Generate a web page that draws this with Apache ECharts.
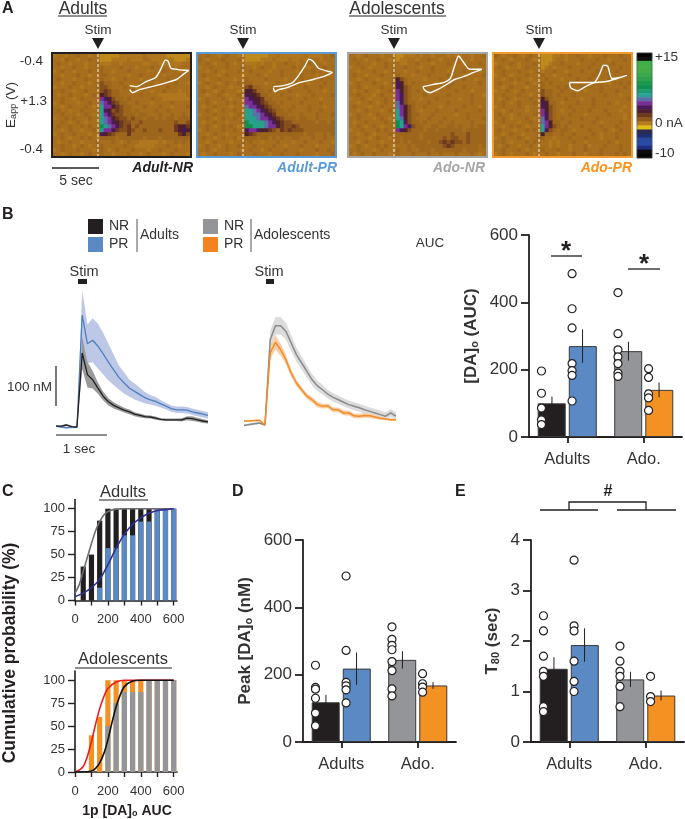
<!DOCTYPE html>
<html>
<head>
    <meta charset="utf-8" />
    <title>Dopamine release in adults and adolescents</title>
    <script src="https://cdn.jsdelivr.net/npm/echarts@6/dist/echarts.min.js"></script>
    <style>
        html, body { margin: 0; padding: 0; background: #fff; }
    </style>
</head>
<body>
<div id="main" style="width:685px;height:819px;"></div>
<script type="text/javascript">
    // colour plots (panel A), one character per cell, see heatLevels
    var heatLevels = { '.': -1.6, ',': -1.35, ':': -1.85, '-': -0.7, '_': 0.1, '~': 1, 'q': 2, 'p': 3, 'b': 4, 't': 5.2, 'g': 7, 'y': -2.2 };
    var heatAdultNR = [
        ":..:..,..:..yyyyy::::::.:::::yyyyyy", "..:,..:..,..yyy::::.:::..::::::yyy:", ".,..:...:..,:::..:.....::..::::::..",
        "..:..,..:...,....,...:...,.....:...", ":.,..:...,..,..:...,....:...,...:..", "..:...,..:..,,.....:..,.....:...,..",
        ".,...:..,...,..:..,...:..,...,.....", "..:..,...:..-,,..,....,...:....,..:", ":...,..:...,--,...,..:...,...,.....",
        "..,..:..,...-_-,,...,....:..,...:..", ".:..,...:.,.~_-,,.....,....:::::::.", "..,..:.,....pq~-,,.,.....,..:::::::",
        ":.,...:..,..bpq_-,,..,...:....,....", "..:.,...,.:.tpp~_-,,...,...,..:...,", ".,..:..,....tq~-_-,,.,....,..,.....",
        "..,...:.,.:.tpq_--,,,.,,...,..,..,.", ":..,.,...,..tbp~_--,-,,.,,.,.,,.,,,", "..,.:.,.:...tbpq~_--,,-,,,,,,,,-,,-",
        ".,..,..,.,..gtbpq_-_,-,,,,,,,,,_~~_", "..:.,..:..,.tppq_--_-,,-,,,-,,,_~q~", ":.,..,...:..q~_-,,,_,,,,,,,,,,,,_~-",
        "..,.:..,.,.:,,,,.,,,,,,.,,,.,,,,,,,", ".:..,..:...,...,.:.,..:::::.:..,.,.", "..,..:.,.:..,.....,..:::::...,..:..",
        ":.,...,...:.,.:.,...,...:..,...,...", "..:.,..:.,..,..:...,..:.,...:.,...:"
    ];
    var heatAdultPR = [
        "..,..:.,..:.yyyyyy::.::::::.::::..,", ",.:...,...,.yyyy:::.:::.::.:...:...", "..,.:..,.:..:::.:..:..,..:..,...:..",
        ":..,...,...,..:.,..:....,...:...,..", "..:.,.:...,..,....:..,...:...,...:.", ".,...:.,...:...,.:...,....,...:....",
        "..:..,...:..,....,....:...,....,...", ":.,..:.,..,.,,...:..,...,...:...,..", "..:.,...:...-_,,...,...:...,...,...",
        ".,..:.,...:.~~_,,.,....,....,...:..", "..:..,.:..,.q~~_,,...,...:...,....,", ":.,...,.:...pq~~_,,....,...,...:...",
        "..,.:..,.,..ppq~_-,,.,....,....,...", ".:..,...:...bppq~_-,,...,...,...:..", "..,.:.,..,..ttbpq~_-,,.,....,..,...",
        ":...,...:.,.ttbbpq~_,,,...,...,...,", "..,.:.,..,..tttbppq~_-,,,.,,..,....", ".:..,..:...,gttttbpq~_--,,,,,,.,,.,",
        "..,.:.,.,.:.ggtttbpp~_--_-,,,,,,,,,", ":.,...,..,..qppq~~_-,_-_---,,,,,,,,", "..:.,..:....~_-,,,,,,,,,,,,.,,..,.,",
        ".,..:.,..,:.,,,.,,.,.,..,,...,..,..", "..:.,...:..,.,..:...,...:..,...,..:", ":.,..:.,..,...,....,..:...,...:....",
        "..,.:..,...:.,..:.,...,...:...,..,.", ".:..,...:.,...,...:..,...,....:...,"
    ];
    var heatAdoNR = [
        "..:.,...:...yy:::.:..:...:.::..:..,", ".,..:..,..:.y::..:..,..:...,...:...", "..,...:..,...::..,...:...,...:...,.",
        ":..,.:...,....,...:..,....:...,....", "..:...,..:.,..:..,...,...:...,...:.", ".,..:...,...,...:...,....,...:....,",
        "..:.,..:...,~-,....:...,.....,..:..", ":.,...,..:.,q~,.,.....:...,......,.", "..,.:...,...q~-,...,.....,...,.....",
        ".:..,..:..,.p~-,.,....:....,...:...", "..,...:.,...pq-,...,.....,.....,..:", ":..,.:...,..pq-,..:...,.....:..,...",
        "..:..,.:.,..bq-,,...,....,.....,...", ".,...:..,...bp~-,..,...:.....,...:.", "..:.,...:.,.tp~-,.:...,....,.....,.",
        ":.,..:.,....tp~-,,...,.....:..,....", "..,...:.,.:.tb~-,...,...,.....,...,", ".:..,....,..gtq-,,.,...,..,....,...",
        "..,.:.,.:...gtpq-,,..,,..,,.,..,.,,", ":..,...,.,..pq~-,,,.,,.,,,,,,.,,,,,", "..:.,.:...,.,,,,,,.,,,,,,,-,,,-,,,,",
        ".,...:.,..:.,.,,,,.,,,,,-,--,,-,,,,", "..:.,...:...,.,.,,,,.,,-_-_--,-,,,,", ":.,.:..,.,.:...,.,,,,,,,-_-,,,,,,.,",
        "..,...:.,..:,..,..,,,.,,,,,,,.,,,..", ".:.,..,...:.,...,...,..,...,...,.:."
    ];
    var heatAdoPR = [
        ",.:..,.:.,..yyy::.:..,..:...,...,..", "..,.:...,.:.yyy:..:...,...,..:...,.", ":...,.:...,.yy:..,...:...,....,....",
        ".,.:..:.,...y:.:...,....,...,...,..", "..,...,..:.,:..,..:...,...,....,...", ":.,.:...,...,..:...,.....,...,...,.",
        "..:.,.,..:...,...:...,..,....,.....", ".,...:..,.:.,.,....,.....,...:..,.,", "..:.,...:...,...,.,...,....,.....,.",
        ":..,.:.,....-,,..,.....:...,...,...", "..,...,..:..-,,.,...,.......,...:..", ".:.,.:...,..~-,...,...:..,........,",
        "..,.:.,...,.q~,,.:...,...,...,.:...", ":.,...,.:...q~-,...,.....,.......:.", "..:.,...:...p~-,.:..,...,...,...:..",
        ".,..:.,...,.pq-,...,...:.....,...:.", "..,.:...,.:.bq-,.,....,...,......:.", ":.,...:..,..bp~,,..,.....,.:....,..",
        "..:.,.,.:...tp~-,.,...,....,...,...", ".,...:..,.,.tq-,.,,.:...,...,.:.,..", "..:.,..:...,~,,..,..,....,.:...,...",
        ":.,...,.:..,,..:...,...,...:...,...", "..,.:...,.,...:.:...,..:.....,.:...", ".:.,..:..,.:..:.:..:...,:...,...,..",
        "..,...,.:...,...,..:...,...,....,..", ":.,.:...,.:..,..:...,..:...,...,.,."
    ];
    var colorbarValues = [15, 14, 13, 12, 11, 10, 9, 8, 7, 6, 5, 4, 3, 2, 1, 0, -1, -2, -3, -4, -5, -6, -7, -8, -9, -10];
    var colorbarColors = ['#050505', '#0c0c0c', '#1c2f80', '#2a4aa8', '#2a4aa0', '#20306e', '#2a2a55', '#e0c014', '#b67c1e', '#8f5a1c',
        '#6e3a1c', '#4b1f2e', '#4a1a5a', '#7b2f96', '#5a6fa8', '#2aa295', '#1a9b70', '#0f8f50', '#1c9a4c', '#2fa04b', '#3aa84c',
        '#44ad4a', '#45b048', '#3fae49', '#111111', '#050505'];

    // cyclic voltammograms drawn on top of the colour plots (percent of panel)
    var cvAdultNR = [[56,31],[61,32],[68,27],[75,23],[79,14],[82,6],[84,7],[86,14],[90,15],[96,16],[99,16],[95,20],[90,25],[83,28],[75,31],[69,33],[63,35],[58,38],[56,35]];
    var cvAdultPR = [[55,32],[62,31],[69,28],[74,20],[78,12],[81,5],[84,7],[88,14],[95,17],[98,18],[92,22],[84,25],[74,28],[65,33],[59,35],[56,37],[55,33]];
    var cvAdoNR = [[54,32],[61,30],[69,28],[74,24],[77,12],[80,2],[83,7],[88,15],[93,15],[97,15],[91,18],[84,22],[77,25],[71,30],[66,34],[59,38],[55,35],[54,32]];
    var cvAdoPR = [[55,28],[65,28],[73,28],[77,20],[80,11],[83,12],[86,24],[92,23],[97,21],[90,24],[82,27],[74,28],[68,31],[61,36],[56,33],[55,28]];

    // panel B traces, nM per sample
    var traceSamples = [];
    for (var s = 0; s < 30; s++) traceSamples.push(s);
    var adultNRMean = [2,2,5,1,0,185,131,118,97,77,63,54,48,42,38,32,29,26,25,22,19,18,18,18,18,22,21,18,15,13];
    var adultNRSem = [2,2,3,2,1,40,32,22,14,11,9,8,7,6,6,5,5,4,4,4,3,3,3,3,4,5,6,5,5,4];
    var adultPRMean = [2,0,-2,-1,-1,280,208,217,202,183,162,143,124,110,97,89,81,73,68,64,58,52,46,43,43,42,38,35,32,29];
    var adultPRSem = [2,2,2,2,2,62,48,55,56,52,46,38,30,27,21,20,17,14,12,11,9,8,8,8,8,8,8,8,8,8];
    var adoNRMean = [4,6,8,10,5,218,253,253,239,210,181,160,139,118,103,93,82,74,68,62,56,52,48,43,39,35,31,27,35,27];
    var adoNRSem = [3,3,3,3,3,22,22,22,21,20,18,16,15,14,13,12,11,11,10,10,10,10,10,10,10,10,10,10,10,10];
    var adoPRMean = [15,15,16,17,5,185,212,193,168,135,110,93,77,68,56,52,53,43,43,35,35,28,27,29,28,25,22,20,18,18];
    var adoPRSem = [2,2,2,2,2,16,18,15,12,10,8,7,7,7,7,6,6,6,6,6,6,6,6,6,6,5,4,3,3,3];

    // bar panels: order is adult NR, adult PR, ado NR, ado PR
    var groupNames = ['Adults', 'Ado.'];
    var aucMeans = [100, 270, 255, 140];
    var aucSems = [20, 50, 28, 22];
    var aucDots = [[196,130,86,51,37], [485,381,324,218,197,183,107], [429,307,259,238,218,190,180], [203,177,128,116,79]];
    var peakMeans = [118, 218, 244, 168];
    var peakSems = [22, 48, 26, 10];
    var peakDots = [[228,162,157,130,86,48], [493,272,177,167,155,116], [342,305,287,274,239,212,158,137], [203,173,163,148]];
    var t80Means = [1.45, 1.92, 1.24, 0.92];
    var t80Sems = [0.23, 0.33, 0.15, 0.1];
    var t80Dots = [[2.5,2.2,1.7,1.4,1.3,0.7,0.6], [3.6,2.3,2.2,1.6,1.2,1.0], [1.9,1.6,1.4,1.3,1.1,0.7], [1.3,0.9,0.8]];

    // panel C, cumulative histograms and fits
    var histBins = [50,100,150,200,250,300,350,400,450,500,550,600];
    var histAdultNR = [37,50,87,100,100,100,100,100,100,100,100,100];
    var histAdultPR = [0,0,14,57,57,71,71,86,86,100,100,100];
    var histAdoPR = [0,40,60,100,100,100,100,100,100,100,100,100];
    var histAdoNR = [0,0,0,50,75,87,87,87,100,100,100,100];
    var fitAdultNR = [[0,8],[25,17],[50,32],[75,47],[100,62],[125,76],[150,86],[175,93],[200,97],[250,99.5],[300,100],[600,100]];
    var fitAdultPR = [[0,4],[50,8],[100,14],[150,23],[200,39],[250,57],[300,72],[350,83],[400,90],[450,95],[500,98],[550,99],[600,100]];
    var fitAdoPR = [[0,0],[25,2],[50,6],[75,17],[100,33],[125,52],[150,69],[175,82],[200,91],[250,98],[300,100],[600,100]];
    var fitAdoNR = [[0,0],[50,0],[100,1],[125,4],[150,10],[175,20],[200,35],[225,54],[250,71],[275,84],[300,93],[350,99],[400,100],[600,100]];

    var INK = '#231f20';
    var TXT = '#333333';
    var FONT = '"Liberation Sans", Arial, sans-serif';
    var BLACK = '#231f20', BLUE = '#5a89c3', GRAY = '#939598', ORANGE = '#f39222';
    var barColors = [BLACK, BLUE, GRAY, ORANGE];

    var grids = [], xAxes = [], yAxes = [], series = [], graphics = [], heatIdx = [];

    function hiddenAxis(o) {
        o.show = false;
        return o;
    }
    function addGrid(left, top, width, height) {
        grids.push({ left: left, top: top, width: width, height: height });
        return grids.length - 1;
    }

    // colour plot + voltammogram overlay + frame
    function addHeat(rows, cv, left, top, frameColor, stimX) {
        var g = addGrid(left + 2, top + 2, 137, 102);
        grids[g].show = true;
        grids[g].backgroundColor = '#a5701e';
        grids[g].borderWidth = 0;
        var cols = [], rowNames = [], data = [];
        for (var c = 0; c < rows[0].length; c++) cols.push(c);
        rows.forEach(function (row, r) {
            rowNames.push(r);
            row.split('').forEach(function (ch, c) {
                data.push([c, r, heatLevels[ch]]);
            });
        });
        xAxes.push(hiddenAxis({ type: 'category', gridIndex: g, data: cols }));
        yAxes.push(hiddenAxis({ type: 'category', gridIndex: g, data: rowNames, inverse: true }));
        heatIdx.push(series.length);
        series.push({ type: 'heatmap', xAxisIndex: xAxes.length - 1, yAxisIndex: yAxes.length - 1, data: data, progressive: 0 });
        xAxes.push(hiddenAxis({ type: 'value', gridIndex: g, min: 0, max: 100 }));
        yAxes.push(hiddenAxis({ type: 'value', gridIndex: g, min: 0, max: 100, inverse: true }));
        series.push({
            type: 'line', xAxisIndex: xAxes.length - 1, yAxisIndex: yAxes.length - 1, data: cv, showSymbol: false, smooth: 0.2,
            lineStyle: { color: '#fff', width: 1.4 }, z: 5
        });
        graphics.push({ type: 'rect', shape: { x: left + 1, y: top + 1, width: 139, height: 104 }, style: { fill: 'none', stroke: frameColor, lineWidth: 2 }, z: 50 });
        graphics.push({ type: 'line', shape: { x1: stimX, y1: top + 2, x2: stimX, y2: top + 104 }, style: { stroke: '#f4efe2', lineWidth: 1, lineDash: [3, 2] }, z: 40 });
        graphics.push({ type: 'polygon', shape: { points: [[stimX - 6, 38], [stimX + 6, 38], [stimX, 49]] }, style: { fill: INK }, z: 40 });
        addText('Stim', stimX, 30, 13.5);
    }

    function addText(str, x, y, size, o) {
        o = o || {};
        graphics.push({
            type: 'text', x: x, y: y, rotation: o.rotation || 0, z: 60,
            style: {
                text: str, fontFamily: FONT, fontSize: size, fontWeight: o.weight || 'normal', fontStyle: o.italic ? 'italic' : 'normal',
                fill: o.color || TXT, textAlign: o.align || 'center', textVerticalAlign: 'middle', rich: o.rich
            }
        });
    }
    function addLine(x1, y1, x2, y2, w, color) {
        graphics.push({ type: 'line', shape: { x1: x1, y1: y1, x2: x2, y2: y2 }, style: { stroke: color || INK, lineWidth: w || 1.5 }, z: 40 });
    }
    function addSwatch(x, y, color) {
        graphics.push({ type: 'rect', shape: { x: x, y: y, width: 15, height: 15 }, style: { fill: color }, z: 40 });
    }

    // mean trace with a shaded sem band, stacked so the band follows the mean
    function addTrace(xIdx, yIdx, mean, sem, lineColor, bandColor, key, width) {
        var lower = mean.map(function (m, i) { return m - sem[i]; });
        var band = sem.map(function (e) { return 2 * e; });
        series.push({
            type: 'line', xAxisIndex: xIdx, yAxisIndex: yIdx, data: lower, stack: key, stackStrategy: 'all', showSymbol: false,
            lineStyle: { opacity: 0 }, areaStyle: { opacity: 0 }
        });
        series.push({
            type: 'line', xAxisIndex: xIdx, yAxisIndex: yIdx, data: band, stack: key, stackStrategy: 'all', showSymbol: false,
            lineStyle: { opacity: 0 }, areaStyle: { color: bandColor, opacity: 1 }
        });
        series.push({
            type: 'line', xAxisIndex: xIdx, yAxisIndex: yIdx, data: mean, showSymbol: false, z: 5,
            lineStyle: { color: lineColor, width: width || 1.3 }
        });
    }
    function addTraceGrid(left) {
        var g = addGrid(left, 283, 152, 152);
        xAxes.push(hiddenAxis({ type: 'category', gridIndex: g, data: traceSamples, boundaryGap: false }));
        yAxes.push(hiddenAxis({ type: 'value', gridIndex: g, min: -20, max: 360 }));
        return [xAxes.length - 1, yAxes.length - 1];
    }

    function addBarPanel(left, top, height, yMax, yStep, yName, nameGap, means, sems, dots) {
        var g = addGrid(left, top, 153, height);
        xAxes.push({
            type: 'category', gridIndex: g, data: groupNames,
            axisLine: { show: true, onZero: false, lineStyle: { color: INK, width: 1.8 } },
            axisTick: { show: true, alignWithLabel: true, length: 6, lineStyle: { color: INK, width: 1.8 } },
            axisLabel: { color: TXT, fontFamily: FONT, fontSize: 16.5, margin: 14, interval: 0 }
        });
        var catX = xAxes.length - 1;
        xAxes.push(hiddenAxis({ type: 'value', gridIndex: g, min: -0.5, max: 1.5 }));
        var valX = xAxes.length - 1;
        yAxes.push({
            type: 'value', gridIndex: g, min: 0, max: yMax, interval: yStep, splitLine: { show: false },
            axisLine: { show: true, onZero: false, lineStyle: { color: INK, width: 1.8 } },
            axisTick: { show: true, length: 8, lineStyle: { color: INK, width: 1.8 } },
            axisLabel: { color: TXT, fontFamily: FONT, fontSize: 17, margin: 11 },
            name: yName, nameLocation: 'middle', nameGap: nameGap, nameRotate: 90,
            nameTextStyle: {
                color: TXT, fontFamily: FONT, fontSize: 17, fontWeight: 'bold',
                rich: { s: { fontSize: 11, fontWeight: 'bold', fontFamily: FONT, color: TXT, padding: [7, 0, 0, 0] } }
            }
        });
        var yIdx = yAxes.length - 1;
        var barStyle = function (i) {
            return { value: means[i], itemStyle: { color: barColors[i], borderColor: '#3a3a3a', borderWidth: 1 } };
        };
        series.push({ type: 'bar', xAxisIndex: catX, yAxisIndex: yIdx, barWidth: 28, barGap: '11%', data: [barStyle(0), barStyle(2)] });
        series.push({ type: 'bar', xAxisIndex: catX, yAxisIndex: yIdx, barWidth: 28, barGap: '11%', data: [barStyle(1), barStyle(3)] });
        var barPos = [-0.2, 0.2, 0.8, 1.2];
        var errData = means.map(function (m, i) { return [barPos[i], m - sems[i], m + sems[i]]; });
        series.push({
            type: 'custom', xAxisIndex: valX, yAxisIndex: yIdx, data: errData, z: 6,
            renderItem: function (params, api) {
                var a = api.coord([api.value(0), api.value(1)]);
                var b = api.coord([api.value(0), api.value(2)]);
                return { type: 'line', shape: { x1: a[0], y1: a[1], x2: b[0], y2: b[1] }, style: { stroke: INK, lineWidth: 1 } };
            }
        });
        var dotData = [];
        dots.forEach(function (list, i) {
            list.forEach(function (v) { dotData.push([barPos[i] - 0.137, v]); });
        });
        series.push({
            type: 'scatter', xAxisIndex: valX, yAxisIndex: yIdx, data: dotData, symbolSize: 8, z: 7,
            itemStyle: { color: '#fff', borderColor: INK, borderWidth: 1.2, opacity: 1 }
        });
    }

    function addHistPanel(top, labelMargin, backData, backColor, frontData, frontColor, fitA, colorA, fitB, colorB) {
        var g = addGrid(75, top, 102, 101);
        var tickStyle = { color: INK, width: 1.4 };
        xAxes.push({
            type: 'value', gridIndex: g, min: 0, max: 620, splitLine: { show: false },
            axisLine: { show: true, onZero: false, lineStyle: { color: INK, width: 1.6 } },
            axisTick: { show: true, length: 5, lineStyle: tickStyle, customValues: [0, 100, 200, 300, 400, 500, 600] },
            axisLabel: { color: TXT, fontFamily: FONT, fontSize: 13, margin: labelMargin, customValues: [0, 200, 400, 600] }
        });
        yAxes.push({
            type: 'value', gridIndex: g, min: 0, max: 110, splitLine: { show: false },
            axisLine: { show: true, onZero: false, lineStyle: { color: INK, width: 1.6 } },
            axisTick: { show: true, length: 7, lineStyle: tickStyle, customValues: [0, 25, 50, 75, 100] },
            axisLabel: { color: TXT, fontFamily: FONT, fontSize: 13, margin: 10, customValues: [0, 25, 50, 75, 100] }
        });
        var xi = xAxes.length - 1, yi = yAxes.length - 1;
        var pairs = function (vals) { return histBins.map(function (b, i) { return [b, vals[i]]; }); };
        series.push({ type: 'bar', xAxisIndex: xi, yAxisIndex: yi, barWidth: 5.2, barGap: '-100%', data: pairs(backData), itemStyle: { color: backColor } });
        series.push({ type: 'bar', xAxisIndex: xi, yAxisIndex: yi, barWidth: 5.2, barGap: '-100%', data: pairs(frontData), itemStyle: { color: frontColor } });
        series.push({ type: 'line', xAxisIndex: xi, yAxisIndex: yi, data: fitA, smooth: 0.3, showSymbol: false, lineStyle: { color: colorA, width: 1.6 }, z: 5 });
        series.push({ type: 'line', xAxisIndex: xi, yAxisIndex: yi, data: fitB, smooth: 0.3, showSymbol: false, lineStyle: { color: colorB, width: 1.6 }, z: 5 });
    }

    // ---- panel A
    addHeat(heatAdultNR, cvAdultNR, 51, 52, INK, 98);
    addHeat(heatAdultPR, cvAdultPR, 196, 52, '#5b9bd5', 243);
    addHeat(heatAdoNR, cvAdoNR, 347, 52, '#a6a6a6', 394);
    addHeat(heatAdoPR, cvAdoPR, 492, 52, '#f39a2e', 539);

    var cbGrid = addGrid(637, 53, 15, 105);
    xAxes.push(hiddenAxis({ type: 'category', gridIndex: cbGrid, data: ['nA'] }));
    yAxes.push(hiddenAxis({ type: 'category', gridIndex: cbGrid, data: colorbarValues, inverse: true }));
    heatIdx.push(series.length);
    series.push({
        type: 'heatmap', xAxisIndex: xAxes.length - 1, yAxisIndex: yAxes.length - 1, progressive: 0,
        data: colorbarValues.map(function (v, i) { return [0, i, v]; })
    });
    graphics.push({ type: 'rect', shape: { x: 637, y: 53, width: 15, height: 105 }, style: { fill: 'none', stroke: '#555', lineWidth: 0.6 }, z: 50 });

    addText('A', 2, 9, 16, { weight: 'bold', align: 'left', color: INK });
    addText('Adults', 83, 9, 17.5);
    addLine(58, 16, 107, 16, 1);
    addText('Adolescents', 397, 9, 17.5);
    addLine(349, 16, 446, 16, 1);
    addText('-0.4', 43, 61, 13.5, { align: 'right' });
    addText('+1.3', 47, 101, 13.5, { align: 'right' });
    addText('-0.4', 43, 149, 13.5, { align: 'right' });
    addText('E{s|app} (V)', 11, 105, 13.5, {
        rotation: Math.PI / 2,
        rich: { s: { fontSize: 9, fontFamily: FONT, fill: TXT, padding: [6, 0, 0, 0] } }
    });
    addLine(52, 168, 99, 168, 1.3);
    addText('5 sec', 76, 181, 14);
    addText('Adult-NR', 193, 168, 14, { weight: 'bold', italic: true, align: 'right', color: INK });
    addText('Adult-PR', 337, 168, 14, { weight: 'bold', italic: true, align: 'right', color: '#5b9bd5' });
    addText('Ado-NR', 485, 168, 14, { weight: 'bold', italic: true, align: 'right', color: '#a6a6a6' });
    addText('Ado-PR', 632, 168, 14, { weight: 'bold', italic: true, align: 'right', color: '#f7941d' });
    addText('+15', 655, 57, 13.5, { align: 'left' });
    addText('0 nA', 655, 123, 13.5, { align: 'left' });
    addText('-10', 655, 153, 13.5, { align: 'left' });

    // ---- panel B
    addText('B', 2, 215, 16, { weight: 'bold', align: 'left', color: INK });
    addSwatch(88, 219, BLACK);
    addSwatch(88, 237, '#5a89c3');
    addText('NR', 109, 226, 14, { align: 'left' });
    addText('PR', 109, 244, 14, { align: 'left' });
    addLine(137, 219, 137, 252, 1, '#555');
    addText('Adults', 140, 235, 14, { align: 'left' });
    addSwatch(203, 219, GRAY);
    addSwatch(203, 237, '#f58220');
    addText('NR', 224, 226, 14, { align: 'left' });
    addText('PR', 224, 244, 14, { align: 'left' });
    addLine(251, 219, 251, 252, 1, '#555');
    addText('Adolescents', 254, 235, 14, { align: 'left' });
    addText('AUC', 430, 243, 13.5);

    var leftTrace = addTraceGrid(56);
    addTrace(leftTrace[0], leftTrace[1], adultPRMean, adultPRSem, '#4f7fc0', '#bcc8e6', 'adultPR');
    addTrace(leftTrace[0], leftTrace[1], adultNRMean, adultNRSem, INK, '#9a9a9a', 'adultNR');
    var rightTrace = addTraceGrid(244);
    addTrace(rightTrace[0], rightTrace[1], adoNRMean, adoNRSem, '#8a8a8a', '#dcdcdc', 'adoNR', 1.5);
    addTrace(rightTrace[0], rightTrace[1], adoPRMean, adoPRSem, '#f28c28', '#f9cfa6', 'adoPR', 1.5);

    addText('Stim', 84, 272, 14.5);
    graphics.push({ type: 'rect', shape: { x: 78, y: 279, width: 9, height: 5 }, style: { fill: INK }, z: 40 });
    addText('Stim', 269, 272, 14.5);
    graphics.push({ type: 'rect', shape: { x: 266, y: 279, width: 8, height: 5 }, style: { fill: INK }, z: 40 });
    addLine(56, 366, 56, 406, 1.2);
    addText('100 nM', 52, 387, 13.5, { align: 'right' });
    addLine(56, 435, 107, 435, 1.2);
    addText('1 sec', 79, 449, 13.5);

    addBarPanel(529, 235, 202, 600, 200, '[DA]{s|o} (AUC)', 49, aucMeans, aucSems, aucDots);
    addLine(551, 256, 582, 256, 1.3);
    addText('*', 566, 252, 26, { weight: 'bold', color: INK });
    addLine(628, 269, 660, 269, 1.3);
    addText('*', 644, 265, 26, { weight: 'bold', color: INK });

    // ---- panel C
    addText('C', 2, 492, 16, { weight: 'bold', align: 'left', color: INK });
    addText('Adults', 123, 492, 16.5);
    addLine(99, 500, 148, 500, 1);
    addHistPanel(499.5, 12, histAdultNR, BLACK, histAdultPR, BLUE, fitAdultNR, '#6d6e71', fitAdultPR, '#2e3192');
    addText('Adolescents', 123, 659, 16.5);
    addLine(75, 668, 172, 668, 1);
    addHistPanel(671, 13, histAdoPR, ORANGE, histAdoNR, GRAY, fitAdoPR, '#ed1c24', fitAdoNR, '#111111');
    addText('Cumulative probability (%)', 10, 653, 17.5, { weight: 'bold', rotation: Math.PI / 2, color: INK });
    addText('1p [DA]{s|o} AUC', 127, 811, 14, {
        weight: 'bold', color: INK,
        rich: { s: { fontSize: 9, fontWeight: 'bold', fontFamily: FONT, fill: INK, padding: [6, 0, 0, 0] } }
    });

    // ---- panel D
    addText('D', 232, 492, 16, { weight: 'bold', align: 'left', color: INK });
    addBarPanel(303, 540, 202, 600, 200, 'Peak [DA]{s|o} (nM)', 49, peakMeans, peakSems, peakDots);

    // ---- panel E
    addText('E', 455, 492, 16, { weight: 'bold', align: 'left', color: INK });
    addBarPanel(531, 540, 202, 4, 1, 'T{s|80} (sec)', 30, t80Means, t80Sems, t80Dots);
    addLine(540, 510, 598, 510, 1.3);
    addLine(617, 510, 676, 510, 1.3);
    graphics.push({
        type: 'polyline', shape: { points: [[569, 510], [569, 502], [646, 502], [646, 510]] },
        style: { stroke: INK, lineWidth: 1.3, fill: 'none' }, z: 40
    });
    addText('#', 608, 492, 16, { weight: 'bold', color: INK });

    var myChart = echarts.init(document.getElementById('main'));
    myChart.setOption({
        animation: false,
        backgroundColor: '#fff',
        textStyle: { fontFamily: FONT },
        grid: grids,
        xAxis: xAxes,
        yAxis: yAxes,
        series: series,
        graphic: graphics,
        visualMap: {
            show: false, type: 'continuous', min: -10, max: 15, seriesIndex: heatIdx,
            inRange: { color: colorbarColors }
        }
    });
</script>
</body>
</html>
